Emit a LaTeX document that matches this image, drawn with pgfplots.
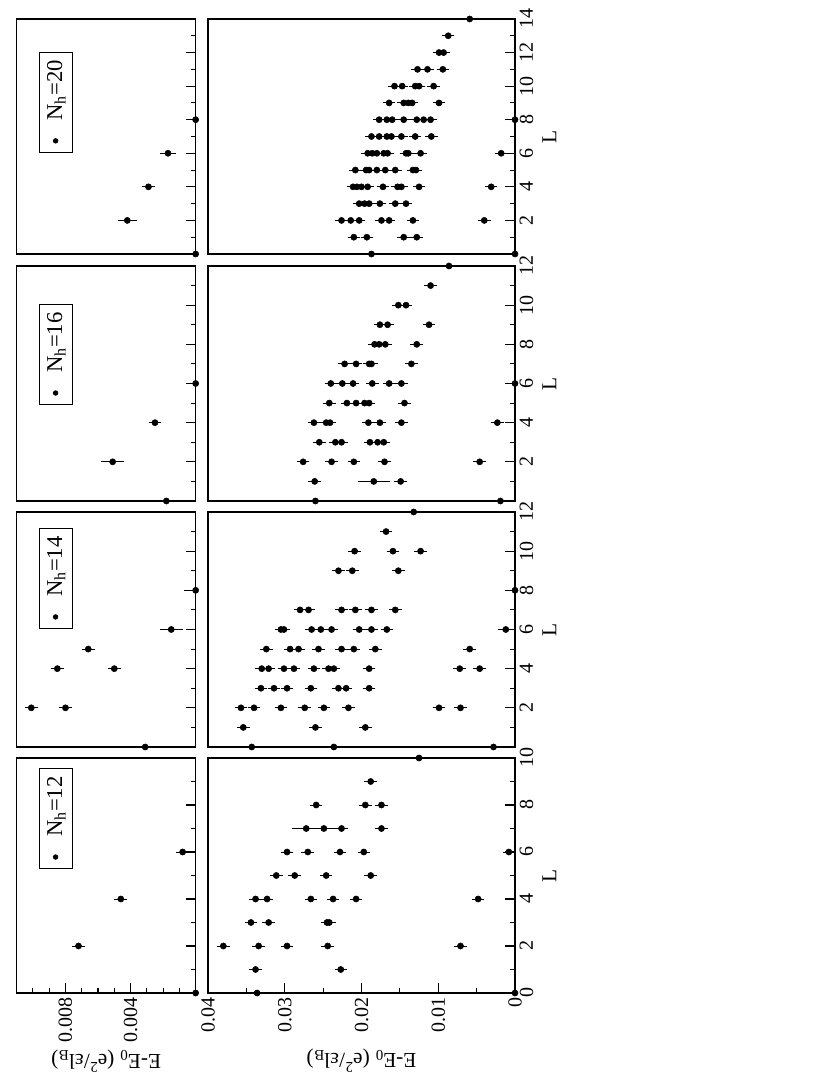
\documentclass[border=0pt]{standalone}
\usepackage{graphicx}
\usepackage{fontspec}
\setmainfont{Liberation Serif}
\usepackage{pgfplots}
\pgfplotsset{compat=1.18}
\usepackage{pgfplotstable}

% main panels: L, E-E0, error
\pgfplotstableread{
L E e
0 0.0336 0.0004
0 0 0.0004
1 0.0338 0.0004
1 0.0227 0.0004
2 0.0380 0.0004
2 0.0334 0.0004
2 0.0297 0.0004
2 0.0244 0.0004
2 0.0071 0.0004
3 0.0344 0.0004
3 0.0321 0.0004
3 0.0245 0.0004
3 0.0242 0.0004
4 0.0338 0.0004
4 0.0323 0.0004
4 0.0266 0.0004
4 0.0237 0.0004
4 0.0207 0.0004
4 0.0048 0.0004
5 0.0311 0.0004
5 0.0287 0.0004
5 0.0246 0.0004
5 0.0188 0.0004
6 0.0297 0.0004
6 0.0270 0.0004
6 0.0228 0.0004
6 0.0197 0.0004
6 0.0008 0.0004
7 0.0272 0.0015
7 0.0249 0.0016
7 0.0226 0.0004
7 0.0174 0.0004
8 0.0259 0.0004
8 0.0195 0.0004
8 0.0174 0.0004
9 0.0188 0.0004
10 0.0125 0.0004
}\mainA
\pgfplotstableread{
L E e
0 0.0343 0.0004
0 0.0236 0.0004
0 0.0028 0.0004
1 0.0354 0.0004
1 0.0260 0.0004
1 0.0195 0.0004
2 0.0357 0.0004
2 0.0340 0.0004
2 0.0305 0.0004
2 0.0274 0.0004
2 0.0249 0.0004
2 0.0217 0.0004
2 0.0099 0.0004
2 0.0071 0.0004
3 0.0331 0.0004
3 0.0314 0.0004
3 0.0297 0.0004
3 0.0266 0.0004
3 0.0230 0.0004
3 0.0220 0.0004
3 0.0190 0.0004
4 0.0330 0.0004
4 0.0321 0.0004
4 0.0301 0.0004
4 0.0288 0.0004
4 0.0262 0.0004
4 0.0243 0.0004
4 0.0236 0.0004
4 0.0190 0.0004
4 0.0072 0.0004
4 0.0046 0.0004
5 0.0324 0.0004
5 0.0293 0.0004
5 0.0282 0.0004
5 0.0256 0.0004
5 0.0226 0.0004
5 0.0210 0.0004
5 0.0182 0.0004
5 0.0059 0.0004
6 0.0305 0.0004
6 0.0301 0.0004
6 0.0265 0.0004
6 0.0253 0.0004
6 0.0239 0.0004
6 0.0203 0.0004
6 0.0187 0.0004
6 0.0167 0.0004
6 0.0012 0.0006
7 0.0280 0.0004
7 0.0269 0.0004
7 0.0226 0.0004
7 0.0208 0.0004
7 0.0187 0.0004
7 0.0156 0.0004
8 0 0.0008
9 0.0230 0.0004
9 0.0212 0.0004
9 0.0152 0.0004
10 0.0209 0.0004
10 0.0159 0.0004
10 0.0123 0.0004
11 0.0168 0.0004
12 0.0132 0.0004
}\mainB
\pgfplotstableread{
L E e
0 0.0260 0.0004
0 0.0019 0.0004
1 0.0261 0.0004
1 0.0184 0.0017
1 0.0149 0.0004
2 0.0276 0.0004
2 0.0239 0.0004
2 0.0210 0.0004
2 0.0170 0.0004
2 0.0046 0.0004
3 0.0255 0.0004
3 0.0234 0.0004
3 0.0226 0.0004
3 0.0189 0.0004
3 0.0179 0.0004
3 0.0171 0.0004
4 0.0262 0.0004
4 0.0246 0.0004
4 0.0241 0.0004
4 0.0191 0.0004
4 0.0176 0.0004
4 0.0148 0.0004
4 0.0023 0.0004
5 0.0242 0.0004
5 0.0219 0.0004
5 0.0207 0.0004
5 0.0196 0.0004
5 0.0190 0.0004
5 0.0144 0.0004
6 0.0240 0.0004
6 0.0225 0.0004
6 0.0211 0.0004
6 0.0186 0.0004
6 0.0164 0.0004
6 0.0148 0.0004
6 0 0.0008
7 0.0222 0.0004
7 0.0207 0.0004
7 0.0190 0.0004
7 0.0187 0.0004
7 0.0135 0.0004
8 0.0183 0.0004
8 0.0177 0.0004
8 0.0169 0.0004
8 0.0128 0.0004
9 0.0176 0.0004
9 0.0166 0.0004
9 0.0112 0.0004
10 0.0152 0.0004
10 0.0142 0.0004
11 0.0110 0.0004
12 0.0086 0.0004
}\mainC
\pgfplotstableread{
L E e
0 0.0187 0.0004
0 0 0.0004
1 0.0210 0.0004
1 0.0193 0.0004
1 0.0145 0.0004
1 0.0128 0.0004
2 0.0226 0.0004
2 0.0214 0.0004
2 0.0203 0.0004
2 0.0174 0.0004
2 0.0164 0.0004
2 0.0133 0.0004
2 0.0040 0.0004
3 0.0203 0.0004
3 0.0196 0.0004
3 0.0190 0.0004
3 0.0176 0.0004
3 0.0156 0.0004
3 0.0142 0.0004
4 0.0211 0.0004
4 0.0206 0.0004
4 0.0200 0.0004
4 0.0192 0.0004
4 0.0172 0.0004
4 0.0153 0.0004
4 0.0148 0.0004
4 0.0125 0.0004
4 0.0031 0.0004
5 0.0208 0.0004
5 0.0194 0.0004
5 0.0190 0.0004
5 0.0180 0.0004
5 0.0169 0.0004
5 0.0156 0.0004
5 0.0133 0.0004
5 0.0129 0.0004
6 0.0192 0.0004
6 0.0186 0.0004
6 0.0180 0.0004
6 0.0171 0.0004
6 0.0166 0.0004
6 0.0142 0.0004
6 0.0139 0.0004
6 0.0123 0.0004
6 0.0018 0.0004
7 0.0187 0.0004
7 0.0177 0.0004
7 0.0167 0.0004
7 0.0161 0.0004
7 0.0148 0.0004
7 0.0130 0.0004
7 0.0109 0.0004
8 0.0177 0.0004
8 0.0167 0.0004
8 0.0160 0.0004
8 0.0145 0.0004
8 0.0128 0.0004
8 0.0119 0.0004
8 0.0110 0.0004
8 0 0.0008
9 0.0164 0.0004
9 0.0145 0.0004
9 0.0139 0.0004
9 0.0134 0.0004
9 0.0099 0.0004
10 0.0157 0.0004
10 0.0147 0.0004
10 0.0130 0.0004
10 0.0125 0.0004
10 0.0106 0.0004
11 0.0127 0.0004
11 0.0114 0.0004
11 0.0094 0.0004
12 0.0099 0.0004
12 0.0093 0.0004
13 0.0087 0.0004
14 0.0059 0.0004
}\mainD

% insets (low-lying branch)
\pgfplotstableread{
L E e
0 0 0.0002
2 0.0072 0.0002
4 0.0046 0.0002
6 0.0008 0.0002
}\smallA
\pgfplotstableread{
L E e
0 0.0031 0.0002
2 0.0101 0.0002
2 0.0080 0.0002
4 0.0085 0.0002
4 0.0050 0.0002
5 0.0066 0.0002
6 0.0015 0.0005
8 0 0.0005
}\smallB
\pgfplotstableread{
L E e
0 0.0018 0.0002
2 0.0051 0.0005
4 0.0025 0.0002
6 0 0.0004
}\smallC
\pgfplotstableread{
L E e
0 0 0.0002
2 0.0042 0.0004
4 0.0029 0.0002
6 0.0017 0.0003
8 0 0.0004
}\smallD

\pgfplotsset{
  base/.style={
    scale only axis, anchor=south west, width=176.25pt,
    axis line style={line width=0.9pt},
    tick align=inside, tick pos=left,
    major tick length=7.5pt, minor tick length=3.75pt,
    every tick/.append style={line width=0.8pt, black},
    scaled ticks=false,
    tick label style={font=\fontsize{15}{15}\selectfont},
    /pgf/number format/assume math mode=true,
    yticklabel style={/pgf/number format/fixed, /pgf/number format/precision=3},
    label style={font=\fontsize{16}{16}\selectfont},
    xmin=0,
  },
  main/.style={height=230.25pt, ymin=0, ymax=0.04,
    xlabel={L}},
  small/.style={height=134.25pt, ymin=0, ymax=0.011, xticklabels={},
    legend style={draw=black, line width=0.6pt, anchor=north east,
      font=\fontsize{17}{17}\selectfont, inner xsep=4pt, inner ysep=4pt},
    legend image code/.code={\fill[black] (0.15cm,0cm) circle (1.7pt);
      \path (0,0) (0.6cm,0);}},
  nolab/.style={ytick=\empty, minor ytick=\empty},
  pts/.style={only marks, mark=*, mark size=2.3pt, black,
    error bars/.cd, y dir=both, y explicit,
    error bar style={line width=0.7pt},
    error mark options={line width=0.7pt, mark size=2.4pt, black}},
}

\begin{document}
\rotatebox{90}{%
\begin{tikzpicture}
% bottom row
\begin{axis}[base, main, at={(61.5pt,236.25pt)}, xmax=10,
  xtick={0,2,...,10}, minor xtick={1,3,...,9},
  ytick={0,0.01,0.02,0.03,0.04}, minor ytick={0.005,0.015,0.025,0.035},
  ylabel={E-E\textsubscript{0} (e\textsuperscript{2}/εl\textsubscript{B})},
  ylabel style={at={(axis description cs:-0.22,0.5)}, anchor=south}]
\addplot[pts] table[x=L, y=E, y error=e] {\mainA};
\end{axis}
\begin{axis}[base, main, nolab, at={(246pt,236.25pt)}, xmax=12,
  xtick={2,4,...,12}, minor xtick={1,3,...,11}]
\addplot[pts] table[x=L, y=E, y error=e] {\mainB};
\end{axis}
\begin{axis}[base, main, nolab, at={(430.5pt,236.25pt)}, xmax=12,
  xtick={2,4,...,12}, minor xtick={1,3,...,11}]
\addplot[pts] table[x=L, y=E, y error=e] {\mainC};
\end{axis}
\begin{axis}[base, main, nolab, at={(615.75pt,236.25pt)}, xmax=14,
  xtick={2,4,...,14}, minor xtick={1,3,...,13}]
\addplot[pts] table[x=L, y=E, y error=e] {\mainD};
\end{axis}
% top row (insets)
\begin{axis}[base, small, at={(61.5pt,475.75pt)}, xmax=10,
  xtick={0,2,...,10}, minor xtick={1,3,...,9},
  ytick={0.004,0.008}, minor ytick={0.001,0.002,0.003,0.005,0.006,0.007,0.009,0.010},
  ylabel={E-E\textsubscript{0} (e\textsuperscript{2}/εl\textsubscript{B})},
  ylabel style={at={(axis description cs:-0.222,0.5)}, anchor=south},
  legend style={at={(0.957,0.877)}}]
\addplot[pts] table[x=L, y=E, y error=e] {\smallA};
\addlegendentry{N\textsubscript{h}=12}
\end{axis}
\begin{axis}[base, small, nolab, at={(246pt,475.75pt)}, xmax=12,
  xtick={2,4,...,12}, minor xtick={1,3,...,11},
  legend style={at={(0.932,0.877)}}]
\addplot[pts] table[x=L, y=E, y error=e] {\smallB};
\addlegendentry{N\textsubscript{h}=14}
\end{axis}
\begin{axis}[base, small, nolab, at={(430.5pt,475.75pt)}, xmax=12,
  xtick={2,4,...,12}, minor xtick={1,3,...,11},
  legend style={at={(0.838,0.877)}}]
\addplot[pts] table[x=L, y=E, y error=e] {\smallC};
\addlegendentry{N\textsubscript{h}=16}
\end{axis}
\begin{axis}[base, small, nolab, at={(615.75pt,475.75pt)}, xmax=14,
  xtick={2,4,...,14}, minor xtick={1,3,...,13},
  legend style={at={(0.86,0.877)}}]
\addplot[pts] table[x=L, y=E, y error=e] {\smallD};
\addlegendentry{N\textsubscript{h}=20}
\end{axis}
\pgfresetboundingbox
\path[use as bounding box] (0,0) rectangle (806.25pt,622.5pt);
\end{tikzpicture}}
\end{document}
